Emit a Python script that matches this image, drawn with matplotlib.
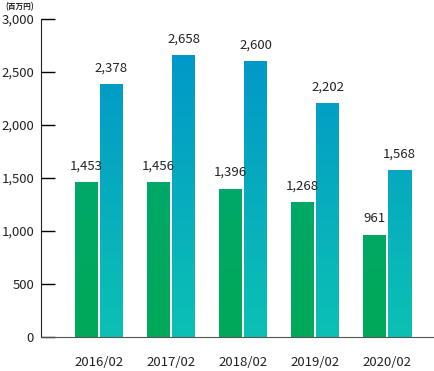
import numpy as np
import matplotlib.pyplot as plt
from matplotlib.colors import LinearSegmentedColormap

plt.rcParams['font.family'] = ['Noto Sans CJK JP', 'DejaVu Sans']

# data
periods = ["2016/02", "2017/02", "2018/02", "2019/02", "2020/02"]
green_vals = [1453, 1456, 1396, 1268, 961]
blue_vals = [2378, 2658, 2600, 2202, 1568]
yticks = [0, 500, 1000, 1500, 2000, 2500, 3000]

fig = plt.figure(figsize=(4.35, 3.71), dpi=100)
ax = fig.add_axes([41 / 435, 34 / 371, 394 / 435, 318 / 371])

ymax = 3000
xmin, xmax = -58 / 72, -58 / 72 + 394 / 72

green_cmap = LinearSegmentedColormap.from_list("g", ["#00a858", "#00a97c"])
blue_cmap = LinearSegmentedColormap.from_list("b", ["#0cc1b3", "#0093cb"])

w = 23 / 72
off = 12.5 / 72
grad = np.linspace(0, 1, 256).reshape(-1, 1)

def gradient_bar(x0, h, cmap):
    # gradient tied to the value axis, cut at bar height
    frac = h / ymax
    ax.imshow(grad[: int(256 * frac) + 1], cmap=cmap, vmin=0, vmax=1, origin="lower",
              extent=[x0, x0 + w, 0, h], aspect="auto", interpolation="bilinear", zorder=2)

for i, (g, b) in enumerate(zip(green_vals, blue_vals)):
    gradient_bar(i - off - w / 2, g, green_cmap)
    gradient_bar(i + off - w / 2, b, blue_cmap)
    ax.text(i - off, g + 95, f"{g:,}", ha="center", va="bottom", fontsize=9.5, color="#222222")
    ax.text(i + off, b + 95, f"{b:,}", ha="center", va="bottom", fontsize=9.5, color="#222222")

ax.set_xlim(xmin, xmax)
ax.set_ylim(0, ymax)

ax.set_yticks(yticks)
ax.set_yticklabels([f"{v:,}" for v in yticks], fontsize=9.5, color="#222222")
ax.tick_params(axis="y", direction="in", length=10, width=1, pad=5)
ax.set_xticks(range(len(periods)))
ax.set_xticklabels(periods, fontsize=9.5, color="#222222")
ax.tick_params(axis="x", length=0, pad=14)

for s in ["top", "right"]:
    ax.spines[s].set_visible(False)
ax.spines["left"].set_color("#222222")
ax.spines["bottom"].set_color("#555555")

fig.text(5 / 435, 1 - 7 / 371, "(百万円)", fontsize=5.5, ha="left", va="center",
         color="#222222", fontweight="bold")

fig.savefig("out.png", dpi=100)
